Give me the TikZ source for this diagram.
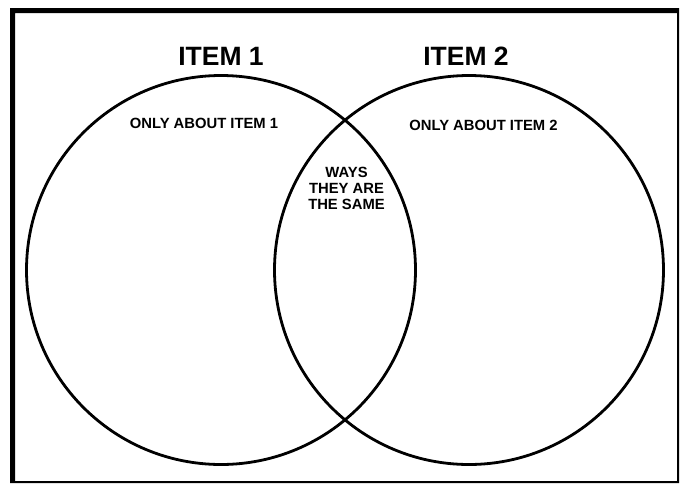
\documentclass[tikz,border=0pt]{standalone}
\usepackage{fontspec}
\setmainfont{Liberation Sans}
\begin{document}
\begin{tikzpicture}[x=1pt,y=-1pt,
  ring/.style={draw=black,line width=2.8pt},
  title/.style={font=\fontsize{26.5}{28}\selectfont\bfseries,inner sep=0pt,anchor=center},
  lbl/.style={inner sep=0pt,anchor=center,align=center}]
\useasboundingbox (0,0) rectangle (681,483);
\fill[white] (0,0) rectangle (681,483);
% frame: heavy left/top, thin right/bottom
\fill[black,even odd rule] (10,8) rectangle (679,483) (15,13) rectangle (677,481);
\node[ring,circle,minimum size=389pt,inner sep=0pt] (c1) at (221,270) {};
\node[ring,circle,minimum size=389pt,inner sep=0pt] (c2) at (469,270) {};
\node[title] (t1) at (221,56) {ITEM 1};
\node[title] (t2) at (466,56) {ITEM 2};
\node[lbl,font=\fontsize{14.8}{15}\selectfont\bfseries] (o1) at (204,123) {ONLY ABOUT ITEM 1};
\node[lbl,font=\fontsize{14.8}{15}\selectfont\bfseries] (o2) at (483.5,125) {ONLY ABOUT ITEM 2};
\node[lbl,font=\fontsize{14.8}{16}\selectfont\bfseries] (s) at (346.5,188) {WAYS\\THEY ARE\\THE SAME};
\end{tikzpicture}
\end{document}
